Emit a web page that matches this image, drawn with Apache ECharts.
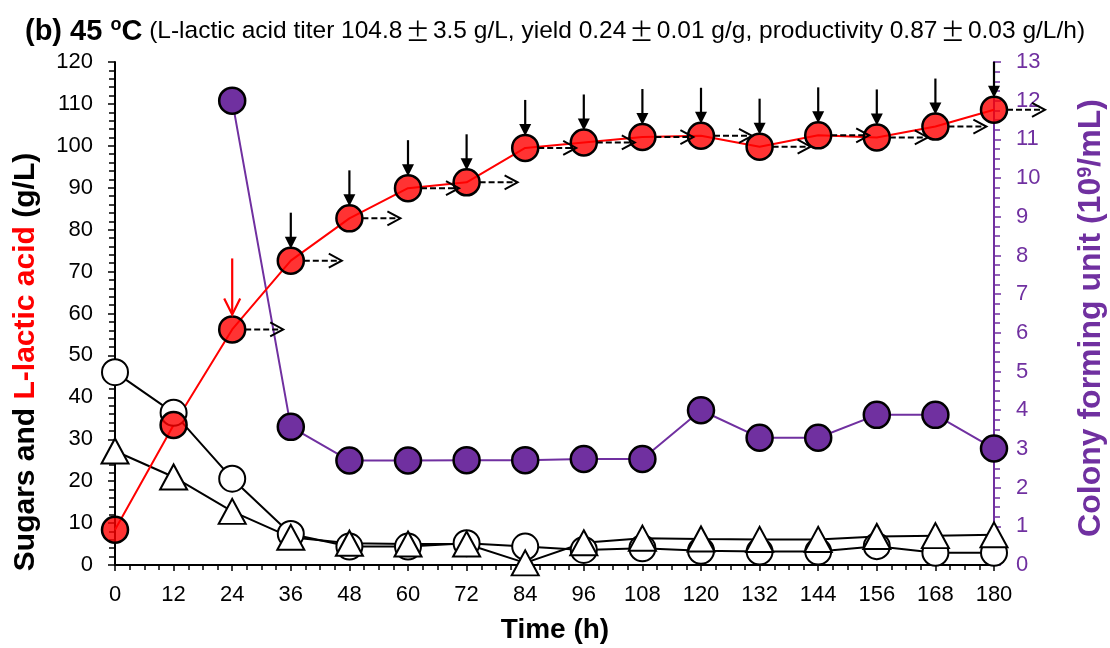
<!DOCTYPE html>
<html>
<head>
<meta charset="utf-8">
<script src="https://cdn.jsdelivr.net/npm/echarts@6/dist/echarts.min.js"></script>
<style>
  html, body { margin: 0; padding: 0; background: #fff; }
  #chart { width: 1110px; height: 648px; }
</style>
</head>
<body>
<div id="chart"></div>
<script>
// sampling times (h)
const times = [0, 12, 24, 36, 48, 60, 72, 84, 96, 108, 120, 132, 144, 156, 168, 180];
// L-lactic acid (g/L)
const lacticAcid = [8.4, 33.4, 56.2, 72.6, 82.7, 89.9, 91.3, 99.5, 100.8, 102.1, 102.4, 99.8, 102.5, 102.0, 104.6, 108.6];
// sugars (g/L): open circles and open triangles
const sugarCircle = [46.0, 36.3, 20.6, 7.4, 4.4, 4.4, 5.2, 4.4, 3.6, 4.0, 3.4, 3.2, 3.2, 4.5, 2.9, 2.9];
const sugarTriangle = [27.2, 21.0, 12.8, 6.6, 5.2, 5.0, 5.0, 0.5, 5.3, 6.4, 6.2, 6.1, 6.1, 6.8, 7.0, 7.2];
// colony forming unit (10^9/mL)
const cfuTimes = [24, 36, 48, 60, 72, 84, 96, 108, 120, 132, 144, 156, 168, 180];
const cfu = [12.0, 3.57, 2.7, 2.7, 2.71, 2.71, 2.74, 2.74, 4.0, 3.29, 3.29, 3.88, 3.88, 3.01];
// feeding times (arrows), first one is drawn in red
const feedTimes = [24, 36, 48, 60, 72, 84, 96, 108, 120, 132, 144, 156, 168, 180];
// axis ranges
const xTicks = { min: 0, max: 180, step: 12 };
const leftTicks = { min: 0, max: 120, step: 10 };
const rightTicks = { min: 0, max: 13, step: 1 };

const FONT = 'Liberation Sans, Arial, sans-serif';
const PURPLE = '#7030A0';

const pairs = (xs, ys) => xs.map((x, i) => [x, ys[i]]);
const feedData = feedTimes.map(t => [t, lacticAcid[times.indexOf(t)]]);

// feeding arrows: vertical arrow above point + dashed arrow to the right
function renderFeed(params, api) {
  const p = api.coord([api.value(0), api.value(1)]);
  const x = p[0], y = p[1];
  const first = params.dataIndex === 0;
  const col = first ? '#FF0000' : '#000';
  const children = [];
  if (first) {
    children.push({ type: 'line', shape: { x1: x, y1: y - 71, x2: x, y2: y - 15 },
      style: { stroke: col, lineWidth: 2.2 } });
    children.push({ type: 'polyline', shape: { points: [[x - 8, y - 31], [x, y - 15], [x + 8, y - 31]] },
      style: { stroke: col, lineWidth: 2.2, fill: null } });
  } else {
    children.push({ type: 'line', shape: { x1: x, y1: y - 48, x2: x, y2: y - 22 },
      style: { stroke: col, lineWidth: 2.2 } });
    children.push({ type: 'polygon', shape: { points: [[x - 6, y - 24], [x + 6, y - 24], [x, y - 12]] },
      style: { fill: col } });
  }
  children.push({ type: 'line', shape: { x1: x + 13, y1: y, x2: x + 50, y2: y },
    style: { stroke: '#000', lineWidth: 2, lineDash: [6, 3] } });
  children.push({ type: 'polyline', shape: { points: [[x + 38, y - 7], [x + 51, y], [x + 38, y + 7]] },
    style: { stroke: '#000', lineWidth: 2, fill: null } });
  return { type: 'group', children: children };
}

const PM = '{pm|\u00b1}';
const chart = echarts.init(document.getElementById('chart'));
chart.setOption({
  animation: false,
  textStyle: { fontFamily: FONT },
  title: {
    left: 20,
    top: 11,
    text: '{b|(b) 45 }{sup|o}{b|C}{n| (L-lactic acid titer 104.8}' + PM + '{n|3.5 g/L, yield 0.24}' + PM +
      '{n|0.01 g/g, productivity 0.87}' + PM + '{n|0.03 g/L/h)}',
    textStyle: {
      rich: {
        b: { fontFamily: FONT, fontSize: 29, fontWeight: 'bold', color: '#000' },
        sup: { fontFamily: FONT, fontSize: 18, fontWeight: 'bold', color: '#000', verticalAlign: 'top', padding: [0, 0, 13, 0] },
        n: { fontFamily: FONT, fontSize: 24.5, fontWeight: 'normal', color: '#000' },
        pm: { fontFamily: 'Noto Sans CJK SC', fontSize: 24.5, fontWeight: 'normal', color: '#000', padding: [0, 3, 0, 3] }
      }
    }
  },
  grid: { left: 115, right: 116, top: 62, bottom: 83 },
  xAxis: {
    type: 'value',
    min: xTicks.min, max: xTicks.max, interval: xTicks.step,
    axisLine: { lineStyle: { color: '#000', width: 2 } },
    axisTick: { length: 6, lineStyle: { color: '#000', width: 1.5 } },
    minorTick: { show: true, splitNumber: 4, length: 5, lineStyle: { color: '#000', width: 1.5 } },
    axisLabel: { fontSize: 22, color: '#000', margin: 19, fontFamily: FONT },
    splitLine: { show: false }
  },
  yAxis: [{
    type: 'value',
    min: leftTicks.min, max: leftTicks.max, interval: leftTicks.step,
    axisLine: { show: true, lineStyle: { color: '#000', width: 2 } },
    axisTick: { show: true, length: 7, lineStyle: { color: '#000', width: 1.5 } },
    minorTick: { show: true, splitNumber: 5, length: 6, lineStyle: { color: '#000', width: 1.5 } },
    axisLabel: { fontSize: 22, color: '#000', margin: 22, fontFamily: FONT },
    splitLine: { show: false }
  }, {
    type: 'value',
    position: 'right',
    min: rightTicks.min, max: rightTicks.max, interval: rightTicks.step,
    axisLine: { show: true, lineStyle: { color: PURPLE, width: 2 } },
    axisTick: { show: true, length: 7, lineStyle: { color: PURPLE, width: 1.5 } },
    minorTick: { show: true, splitNumber: 4, length: 6, lineStyle: { color: PURPLE, width: 1.5 } },
    axisLabel: { fontSize: 22, color: PURPLE, margin: 22, fontFamily: FONT },
    splitLine: { show: false }
  }],
  graphic: [{
    type: 'text',
    x: 555, y: 630,
    style: { text: 'Time (h)', font: 'bold 28px ' + FONT, fill: '#000', align: 'center', verticalAlign: 'middle' }
  }, {
    type: 'text',
    x: 26, y: 362,
    rotation: Math.PI / 2,
    style: {
      text: '{k|Sugars and }{r|L-lactic acid}{k| (g/L)}',
      align: 'center', verticalAlign: 'middle',
      rich: {
        k: { font: 'bold 30px ' + FONT, fill: '#000' },
        r: { font: 'bold 30px ' + FONT, fill: '#FF0000' }
      }
    }
  }, {
    type: 'text',
    x: 1091, y: 318,
    rotation: Math.PI / 2,
    style: {
      text: '{p|Colony forming unit (10}{s|9}{p|/mL)}',
      align: 'center', verticalAlign: 'middle',
      rich: {
        p: { font: 'bold 32px ' + FONT, fill: PURPLE },
        s: { font: 'bold 20px ' + FONT, fill: PURPLE, verticalAlign: 'top', padding: [0, 0, 12, 0] }
      }
    }
  }],
  series: [{
    name: 'Sugar (circle)',
    type: 'line',
    data: pairs(times, sugarCircle),
    symbol: 'circle', symbolSize: 26,
    lineStyle: { color: '#000', width: 2 },
    itemStyle: { color: '#fff', borderColor: '#000', borderWidth: 2 }
  }, {
    name: 'Sugar (triangle)',
    type: 'line',
    data: pairs(times, sugarTriangle),
    symbol: 'triangle', symbolSize: [27, 25],
    lineStyle: { color: '#000', width: 2 },
    itemStyle: { color: '#fff', borderColor: '#000', borderWidth: 2 }
  }, {
    name: 'CFU',
    type: 'line',
    yAxisIndex: 1,
    data: pairs(cfuTimes, cfu),
    symbol: 'circle', symbolSize: 26,
    lineStyle: { color: PURPLE, width: 2 },
    itemStyle: { color: PURPLE, borderColor: '#000', borderWidth: 2.5 }
  }, {
    name: 'L-lactic acid',
    type: 'line',
    data: pairs(times, lacticAcid),
    symbol: 'circle', symbolSize: 26,
    lineStyle: { color: '#FF0000', width: 2 },
    itemStyle: { color: 'rgba(255,0,0,0.8)', borderColor: '#000', borderWidth: 2.5 }
  }, {
    name: 'Feeding',
    type: 'custom',
    data: feedData,
    clip: false,
    renderItem: renderFeed,
    z: 5
  }]
});
</script>
</body>
</html>
